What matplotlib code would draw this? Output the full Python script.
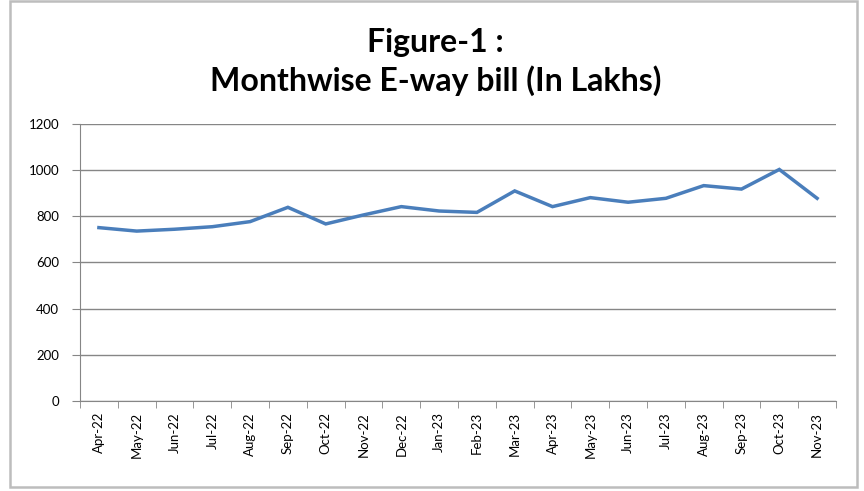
import matplotlib
matplotlib.use("Agg")
import matplotlib.pyplot as plt
from matplotlib.patches import Rectangle
import numpy as np

months = ["Apr-22", "May-22", "Jun-22", "Jul-22", "Aug-22", "Sep-22", "Oct-22",
          "Nov-22", "Dec-22", "Jan-23", "Feb-23", "Mar-23", "Apr-23", "May-23",
          "Jun-23", "Jul-23", "Aug-23", "Sep-23", "Oct-23", "Nov-23"]
eway_bills = [751, 736, 744, 755, 777, 839, 767, 806, 842, 823, 817, 910,
              842, 881, 861, 878, 933, 918, 1003, 878]
yticks = [0, 200, 400, 600, 800, 1000, 1200]

plt.rcParams['font.family'] = ['Lato', 'DejaVu Sans']

fig = plt.figure(figsize=(8.64, 4.91), dpi=100)
ax = fig.add_axes([0.0926, 0.1833, 0.875, 0.5642])

x = np.arange(len(months))
ax.plot(x, eway_bills, color="#4A7EBB", linewidth=2.5, solid_joinstyle="miter")

ax.set_xlim(-0.5, len(months) - 0.5)
ax.set_ylim(0, 1200)
ax.set_yticks(yticks)
ax.set_yticklabels([str(v) for v in yticks], fontsize=9.5)
ax.set_xticks(x)
ax.set_xticklabels(months, rotation=90, fontsize=9.5)
ax.set_xticks(np.arange(-0.5, len(months), 1), minor=True)
ax.tick_params(axis="x", which="major", length=0, pad=8)
ax.tick_params(axis="x", which="minor", length=5, color="#868686")
ax.tick_params(axis="y", length=6, color="#868686", pad=9)

ax.grid(axis="y", color="#868686", linewidth=1)
ax.set_axisbelow(True)
for s in ["top", "right"]:
    ax.spines[s].set_visible(False)
for s in ["left", "bottom"]:
    ax.spines[s].set_color("#868686")

fig.text(0.504, 0.913, "Figure-1 :", ha="center", va="center",
         fontsize=23, fontweight="bold")
fig.text(0.504, 0.836, "Monthwise E-way bill (In Lakhs)", ha="center",
         va="center", fontsize=23, fontweight="bold")

fig.patches.append(Rectangle((0.0116, 0.008), 0.98, 0.989, transform=fig.transFigure,
                             fill=False, edgecolor="#BDBDBD", linewidth=1.8))

fig.savefig("out.png", dpi=100)
